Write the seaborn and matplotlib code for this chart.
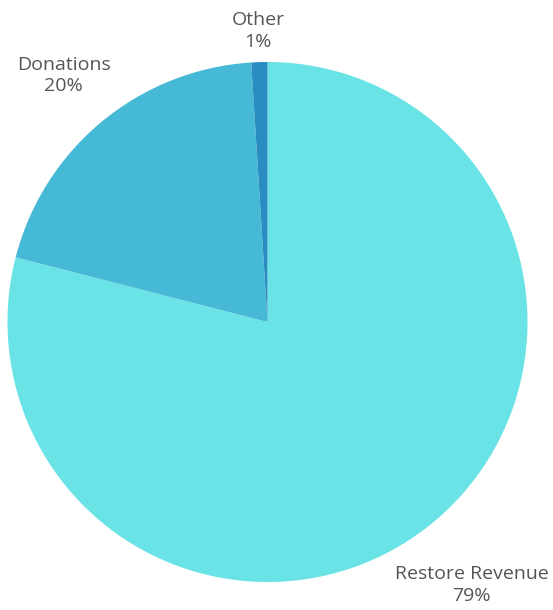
import numpy as np
import matplotlib
matplotlib.use("Agg")
import matplotlib.pyplot as plt
import seaborn as sns

# Veriler
kategoriler = ["Restore Revenue", "Donations", "Other"]
yuzdeler = [79, 20, 1]
renkler = ["#6ae3e6", "#45b9d6", "#2a8dc2"]
etiket_uzaklik = [1.28, 1.23, 1.12]

sns.set_theme(style="white")
plt.rcParams["font.family"] = ["Open Sans", "DejaVu Sans"]

fig = plt.figure(figsize=(5.53, 6.10), dpi=100)
ax = fig.add_axes([7.5 / 553, 28 / 610, 520 / 553, 520 / 610])

wedges, _ = ax.pie(yuzdeler, colors=sns.color_palette(renkler), startangle=90,
                   counterclock=False, radius=1,
                   wedgeprops=dict(linewidth=0, edgecolor="none"))

# Etiketleri dilimlerin orta açısına göre yerleştir
for w, ad, p, d in zip(wedges, kategoriler, yuzdeler, etiket_uzaklik):
    aci = np.deg2rad((w.theta1 + w.theta2) / 2)
    ax.text(d * np.cos(aci), d * np.sin(aci), f"{ad}\n{p}%", ha="center", va="center",
            fontsize=14, color="#555555", linespacing=1.25)

ax.set_xlim(-1, 1)
ax.set_ylim(-1, 1)
ax.set_aspect("equal")
ax.axis("off")

fig.savefig("out.png", dpi=100)
